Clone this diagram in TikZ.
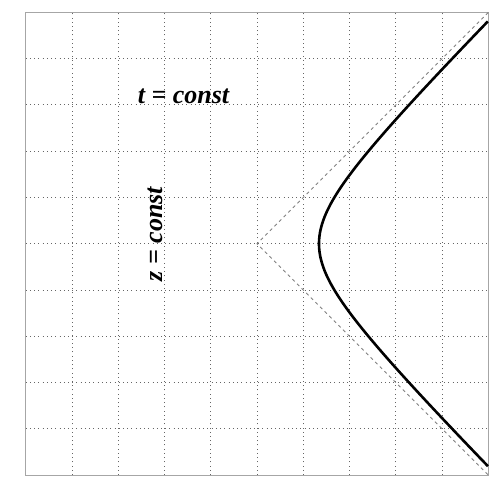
\documentclass[tikz,border=0pt]{standalone}
\usepackage{fontspec}
\setmainfont{Liberation Serif}

\begin{document}
\begin{tikzpicture}[every node/.style={font=\fontsize{16}{18}\selectfont\bfseries\itshape}]
  \useasboundingbox (-5.557,-5.39) rectangle (5.21,5.27);
  % grid
  \draw[black!60, dotted, line width=0.6pt] (-5,-5) grid (5,5);
  \draw[gray!70, line width=0.6pt] (-5,-5) rectangle (5,5);
  % light cone
  \coordinate (O) at (0,0);
  \coordinate (up) at (5,5);
  \coordinate (down) at (5,-5);
  \draw[gray, dashed, dash pattern=on 2pt off 2pt, line width=0.5pt] (up) -- (O) -- (down);
  % worldline
  \draw[line width=1.6pt] plot[domain=-1.99:1.99, samples=80, smooth] ({1.34*cosh(\x)}, {1.34*sinh(\x)});
  % labels
  \node[anchor=base] (tc) at (-1.59,3.04) {t = const};
  \node[anchor=base, rotate=90] (zc) at (-2.05,0.21) {z = const};
\end{tikzpicture}
\end{document}
